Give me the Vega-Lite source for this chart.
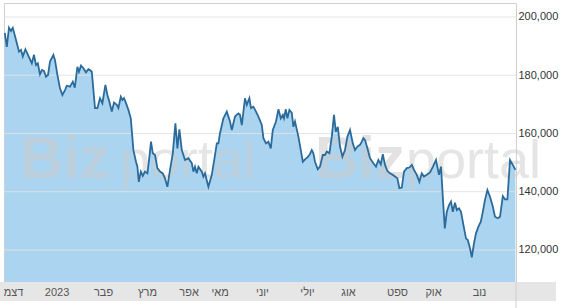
{
  "$schema": "https://vega.github.io/schema/vega-lite/v6.json",
  "width": 512,
  "height": 279,
  "autosize": {"type": "none"},
  "padding": {"left": 4, "top": 3, "right": 52, "bottom": 26},
  "background": "white",
  "config": {"view": {"stroke": "#cfcfcf", "strokeWidth": 1}, "font": "Liberation Sans"},
  "datasets": {
    "series": [
      {"d":0.4,"v":194500},{"d":1.4,"v":189700},{"d":2.5,"v":196300},{"d":3.5,"v":195200},{"d":4.4,"v":196300},
      {"d":6.4,"v":191100},{"d":7.5,"v":188100},{"d":8.5,"v":188700},{"d":9.4,"v":186400},{"d":10.7,"v":188900},
      {"d":12,"v":187000},{"d":13.9,"v":184100},{"d":15,"v":187000},{"d":16,"v":183500},{"d":16.9,"v":184100},
      {"d":18,"v":180300},{"d":19,"v":181800},{"d":20,"v":181500},{"d":21,"v":179500},{"d":22,"v":180100},
      {"d":23,"v":184700},{"d":24.7,"v":187000},{"d":25.5,"v":185200},{"d":26.7,"v":180100},{"d":28,"v":175500},
      {"d":29.2,"v":173200},{"d":30.5,"v":174900},{"d":31.4,"v":176400},{"d":33,"v":176100},{"d":34.4,"v":177800},
      {"d":35.4,"v":175700},{"d":36.7,"v":182900},{"d":37.5,"v":181200},{"d":38.5,"v":183300},{"d":39.7,"v":182400},
      {"d":41,"v":181000},{"d":42.2,"v":182100},{"d":43,"v":181800},{"d":43.9,"v":181200},{"d":45.5,"v":168700},
      {"d":46.7,"v":168700},{"d":48,"v":172100},{"d":49.2,"v":170400},{"d":50.7,"v":176700},{"d":51.7,"v":173200},
      {"d":52.7,"v":170900},{"d":53.9,"v":167500},{"d":55,"v":170600},{"d":56.4,"v":169800},{"d":57.2,"v":168700},
      {"d":58.4,"v":172600},{"d":59.2,"v":171500},{"d":60,"v":172100},{"d":61,"v":170400},{"d":62.2,"v":168100},
      {"d":63.4,"v":165200},{"d":64.7,"v":154300},{"d":66,"v":150300},{"d":66.7,"v":148600},{"d":67.4,"v":143400},
      {"d":68.4,"v":146900},{"d":69.4,"v":145400},{"d":70.5,"v":146900},{"d":71.7,"v":146300},{"d":72.7,"v":152000},
      {"d":73.5,"v":157200},{"d":74.4,"v":153200},{"d":75.5,"v":152600},{"d":76.7,"v":148100},{"d":78,"v":146900},
      {"d":79.4,"v":146300},{"d":80.5,"v":144600},{"d":81.7,"v":141700},{"d":83,"v":147500},{"d":84.4,"v":153200},
      {"d":85.7,"v":163500},{"d":86.7,"v":154900},{"d":87.7,"v":161400},{"d":88.9,"v":154300},{"d":90.5,"v":150900},
      {"d":92.2,"v":151500},{"d":93.9,"v":149800},{"d":94.7,"v":146900},{"d":95.5,"v":148600},{"d":96.4,"v":146300},
      {"d":97.2,"v":148600},{"d":98.9,"v":146900},{"d":99.7,"v":145200},{"d":100.5,"v":146300},{"d":102.2,"v":141700},
      {"d":103.9,"v":145800},{"d":105.5,"v":152600},{"d":106.4,"v":156600},{"d":107.2,"v":156600},{"d":108,"v":160100},
      {"d":109.7,"v":165200},{"d":111.4,"v":167500},{"d":113,"v":164100},{"d":113.9,"v":161200},{"d":115.5,"v":165800},
      {"d":117.2,"v":166900},{"d":118,"v":166400},{"d":118.9,"v":162900},{"d":120.5,"v":172100},{"d":121.4,"v":169800},
      {"d":122.7,"v":172100},{"d":123.5,"v":168700},{"d":124.7,"v":169200},{"d":126,"v":167500},{"d":127.2,"v":165800},
      {"d":128.9,"v":162900},{"d":129.7,"v":158400},{"d":131,"v":156600},{"d":132.2,"v":157200},{"d":133.4,"v":154900},
      {"d":134.4,"v":161200},{"d":136,"v":164100},{"d":137.2,"v":168300},{"d":138.4,"v":165200},{"d":139.4,"v":166400},
      {"d":140,"v":165200},{"d":140.9,"v":168300},{"d":141.7,"v":165200},{"d":142.7,"v":168100},{"d":143.9,"v":167100},
      {"d":144.7,"v":162300},{"d":145.5,"v":164100},{"d":147.2,"v":158900},{"d":148.4,"v":154300},{"d":149.4,"v":150300},
      {"d":150.5,"v":151100},{"d":151.7,"v":151800},{"d":152.7,"v":152600},{"d":153.9,"v":154300},{"d":154.7,"v":153200},
      {"d":155.5,"v":150300},{"d":156.9,"v":147700},{"d":158,"v":148600},{"d":159.4,"v":152600},{"d":160.5,"v":152600},
      {"d":161.4,"v":153800},{"d":162.7,"v":153200},{"d":163.9,"v":158900},{"d":165,"v":166400},{"d":165.9,"v":160600},
      {"d":166.9,"v":162300},{"d":168,"v":155500},{"d":169.2,"v":152000},{"d":170.5,"v":154300},{"d":171.7,"v":158900},
      {"d":173,"v":161200},{"d":174.4,"v":156600},{"d":175.5,"v":154300},{"d":176.7,"v":155500},{"d":178,"v":156100},
      {"d":178.9,"v":157200},{"d":179.7,"v":158400},{"d":180.5,"v":157800},{"d":181.7,"v":154900},{"d":183,"v":151500},
      {"d":184.7,"v":149800},{"d":186,"v":148600},{"d":187.2,"v":150900},{"d":188.4,"v":149400},{"d":189.4,"v":152900},
      {"d":190.5,"v":149200},{"d":191.7,"v":147100},{"d":193,"v":146300},{"d":194.4,"v":145800},{"d":195.5,"v":145200},
      {"d":196.7,"v":144600},{"d":197.7,"v":141200},{"d":198.9,"v":141400},{"d":200,"v":146900},{"d":201.4,"v":148100},
      {"d":202.7,"v":148300},{"d":203.9,"v":149200},{"d":205,"v":147500},{"d":206.4,"v":145800},{"d":207.7,"v":143400},
      {"d":208.9,"v":146300},{"d":210,"v":145200},{"d":211.4,"v":145800},{"d":213,"v":146600},{"d":214.5,"v":148600},
      {"d":216,"v":150900},{"d":217.5,"v":145800},{"d":218.5,"v":148600},{"d":219.4,"v":138300},{"d":220.4,"v":127400},
      {"d":221.4,"v":133100},{"d":222.5,"v":135400},{"d":223.5,"v":136600},{"d":224.4,"v":133100},{"d":225.5,"v":136200},
      {"d":226.4,"v":133700},{"d":227.5,"v":134300},{"d":228.5,"v":133100},{"d":229.7,"v":128600},{"d":231,"v":124000},
      {"d":231.9,"v":123400},{"d":233,"v":120600},{"d":233.9,"v":117500},{"d":235,"v":122300},{"d":236,"v":125700},
      {"d":237.2,"v":128000},{"d":238.4,"v":129700},{"d":239.4,"v":133100},{"d":240.5,"v":137200},{"d":241.7,"v":140600},
      {"d":243,"v":138300},{"d":244.4,"v":134900},{"d":245.5,"v":131400},{"d":246.9,"v":130900},{"d":248,"v":131400},
      {"d":249.4,"v":138500},{"d":250.5,"v":137400},{"d":251.7,"v":137400},{"d":253,"v":150900},{"d":254.4,"v":149200},
      {"d":255.7,"v":147500}
    ],
    "grid": [{"g":120000},{"g":140000},{"g":160000},{"g":180000},{"g":200000}]
  },
  "layer": [
    {
      "data": {"values": [{}]},
      "mark": {"type": "rect", "color": "#e6e6e6", "clip": false},
      "encoding": {
        "x": {"datum": -2, "type": "quantitative", "scale": {"domain": [0, 256], "nice": false, "zero": false},
          "axis": {"title": null, "orient": "bottom", "domain": false, "ticks": false, "grid": false, "zindex": 1,
            "values": [4.5, 26.3, 49.5, 71.5, 92.3, 107.8, 129, 151.5, 172, 196.5, 214.5, 237.5],
            "labelExpr": "datum.value < 10 ? 'דצמ' : datum.value < 30 ? '2023' : datum.value < 60 ? 'פבר' : datum.value < 80 ? 'מרץ' : datum.value < 100 ? 'אפר' : datum.value < 115 ? 'מאי' : datum.value < 140 ? 'יוני' : datum.value < 160 ? 'יולי' : datum.value < 185 ? 'אוג' : datum.value < 205 ? 'ספט' : datum.value < 225 ? 'אוק' : 'נוב'",
            "labelFontSize": 11, "labelColor": "#555555", "labelPadding": 4, "labelFlush": false, "labelOverlap": false, "labelFont": "Liberation Sans"}},
        "x2": {"datum": 276},
        "y": {"datum": 109000, "type": "quantitative", "scale": {"domain": [109000, 204800], "nice": false, "zero": false},
          "axis": {"title": null, "orient": "right", "domain": false, "ticks": false, "grid": false, "zindex": 1,
            "values": [120000, 140000, 160000, 180000, 200000],
            "labelExpr": "format(datum.value, ',')",
            "labelFontSize": 11, "labelColor": "#333333", "labelPadding": 2, "labelFont": "Liberation Sans"}},
        "y2": {"datum": 102500}
      }
    },
    {
      "data": {"name": "series"},
      "mark": {"type": "area", "color": "#aad4f0", "clip": true},
      "encoding": {
        "x": {"field": "d", "type": "quantitative", "scale": {"domain": [0, 256], "nice": false, "zero": false}},
        "y": {"field": "v", "type": "quantitative", "scale": {"domain": [109000, 204800], "nice": false, "zero": false}},
        "y2": {"datum": 109000}
      }
    },
    {
      "data": {"name": "grid"},
      "mark": {"type": "rule", "color": "#e2e2e2", "strokeWidth": 1, "opacity": 0.9},
      "encoding": {
        "y": {"field": "g", "type": "quantitative", "scale": {"domain": [109000, 204800], "nice": false, "zero": false}}
      }
    },
    {
      "data": {"values": [{}]},
      "mark": {"type": "text", "text": "Biz", "fontSize": 60, "fontWeight": "bold", "font": "Liberation Sans", "align": "left", "baseline": "alphabetic", "color": "#cccccc", "opacity": 0.55},
      "encoding": {
        "x": {"datum": 8, "type": "quantitative", "scale": {"domain": [0, 256], "nice": false, "zero": false}},
        "y": {"datum": 144700, "type": "quantitative", "scale": {"domain": [109000, 204800], "nice": false, "zero": false}}
      }
    },
    {
      "data": {"values": [{}]},
      "mark": {"type": "text", "text": "portal", "fontSize": 54, "fontWeight": "normal", "font": "Liberation Sans", "align": "left", "baseline": "alphabetic", "color": "#cccccc", "opacity": 0.5},
      "encoding": {
        "x": {"datum": 58, "type": "quantitative", "scale": {"domain": [0, 256], "nice": false, "zero": false}},
        "y": {"datum": 144700, "type": "quantitative", "scale": {"domain": [109000, 204800], "nice": false, "zero": false}}
      }
    },
    {
      "data": {"values": [{}]},
      "mark": {"type": "text", "text": "Biz", "fontSize": 60, "fontWeight": "bold", "font": "Liberation Sans", "align": "left", "baseline": "alphabetic", "color": "#cccccc", "opacity": 0.55},
      "encoding": {
        "x": {"datum": 155.5, "type": "quantitative", "scale": {"domain": [0, 256], "nice": false, "zero": false}},
        "y": {"datum": 144700, "type": "quantitative", "scale": {"domain": [109000, 204800], "nice": false, "zero": false}}
      }
    },
    {
      "data": {"values": [{}]},
      "mark": {"type": "text", "text": "portal", "fontSize": 54, "fontWeight": "normal", "font": "Liberation Sans", "align": "left", "baseline": "alphabetic", "color": "#cccccc", "opacity": 0.5},
      "encoding": {
        "x": {"datum": 201, "type": "quantitative", "scale": {"domain": [0, 256], "nice": false, "zero": false}},
        "y": {"datum": 144700, "type": "quantitative", "scale": {"domain": [109000, 204800], "nice": false, "zero": false}}
      }
    },
    {
      "data": {"name": "series"},
      "mark": {"type": "line", "color": "#2b6b9b", "strokeWidth": 1.8, "clip": true},
      "encoding": {
        "x": {"field": "d", "type": "quantitative", "scale": {"domain": [0, 256], "nice": false, "zero": false}},
        "y": {"field": "v", "type": "quantitative", "scale": {"domain": [109000, 204800], "nice": false, "zero": false}}
      }
    },
    {
      "data": {"values": [{}]},
      "mark": {"type": "rule", "color": "#cfcfcf", "strokeWidth": 1, "clip": false},
      "encoding": {
        "x": {"datum": 256, "type": "quantitative", "scale": {"domain": [0, 256], "nice": false, "zero": false}},
        "y": {"datum": 109000, "type": "quantitative", "scale": {"domain": [109000, 204800], "nice": false, "zero": false}},
        "y2": {"datum": 100000}
      }
    }
  ]
}
